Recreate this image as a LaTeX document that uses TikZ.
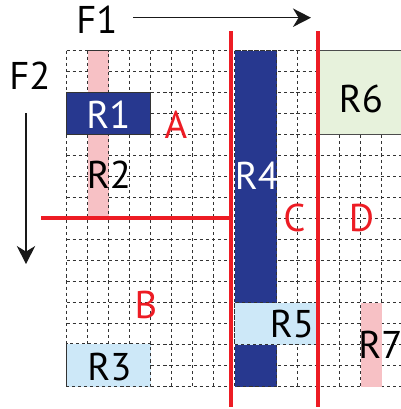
\documentclass[tikz,border=0pt]{standalone}
\usepackage{fontspec}
\setmainfont{PT Sans}
\usetikzlibrary{arrows.meta}
\definecolor{dblue}{HTML}{27388F}
\definecolor{rpink}{HTML}{F7C1C5}
\definecolor{lblue}{HTML}{CDE8F8}
\definecolor{lgreen}{HTML}{E7F2DC}
\definecolor{rred}{HTML}{ED1C24}
\begin{document}
\begin{tikzpicture}[x=0.025cm,y=-0.025cm,
  gridline/.style={draw=black!80,line width=0.55pt,dash pattern=on 2.2pt off 2.1pt},
  redline/.style={draw=rred,line width=2.9pt},
  lbl/.style={inner sep=0pt,font=\fontsize{27.5}{30}\selectfont},
  farrow/.style={draw=black!90,fill=black!90,line width=1.05pt,-{Stealth[length=0.45cm,width=0.46cm,inset=0.14cm]}},
  lightbox/.style={gridline},
  darkbox/.style={fill=dblue,draw=black!80,line width=0.6pt}]
\useasboundingbox (0,0) rectangle (401,409);
\begin{scope}
\clip (0,0) rectangle (401,409);
% grid
\foreach \i in {0,...,16}{
  \draw[gridline] (66.7+21*\i,50.7) -- (66.7+21*\i,386.7);
  \draw[gridline] (66.7,50.7+21*\i) -- (402.7,50.7+21*\i);
}
% R2 pink column
\filldraw[lightbox,fill=rpink] (87.7,50.7) rectangle (108.7,218.7);
% R1
\filldraw[darkbox] (66.7,92.7) rectangle (150.7,134.7);
% R4
\filldraw[lightbox,fill=dblue] (234.7,50.7) rectangle (276.7,386.7);
% R5
\filldraw[lightbox,fill=lblue] (234.7,302.7) rectangle (318.7,344.7);
% R3
\filldraw[lightbox,fill=lblue] (66.7,343.7) rectangle (150.7,386.7);
% R6
\filldraw[fill=lgreen,draw=black!70,line width=0.7pt] (318.7,50.7) rectangle (410,134.7);
% R7
\fill[rpink] (360.7,302.7) rectangle (381.7,386.7);
\end{scope}
% red separators
\coordinate (v1t) at (230.7,31);
\coordinate (v1b) at (230.7,407);
\coordinate (v2t) at (318.3,31);
\coordinate (v2b) at (318.3,407);
\coordinate (hl) at (41,218.3);
\coordinate (hr) at (230.7,218.3);
\draw[redline] (v1t) -- (v1b);
\draw[redline] (v2t) -- (v2b);
\draw[redline] (hl) -- (hr);
% F arrows
\node[lbl] (F1) at (97,20) {F1};
\node[lbl] (F2) at (30,76) {F2};
\coordinate (f1s) at (133,17.7);
\coordinate (f1e) at (311,17.7);
\coordinate (f2s) at (26,113);
\coordinate (f2e) at (26,264);
\draw[farrow] (f1s) -- (f1e);
\draw[farrow] (f2s) -- (f2e);
% labels
\node[lbl,white] (lR1) at (108.5,115) {R1};
\node[lbl,black] (lR2) at (109,175) {R2};
\node[lbl,white] (lR4) at (257,176) {R4};
\node[lbl,black] (lR6) at (361,99) {R6};
\node[lbl,black] (lR5) at (292,324) {R5};
\node[lbl,black] (lR3) at (109.5,367) {R3};
\node[lbl,black] (lR7) at (380.3,345) {R7};
\node[lbl,rred] (lA) at (176,125) {A};
\node[lbl,rred] (lB) at (146,305) {B};
\node[lbl,rred] (lC) at (294.5,218) {C};
\node[lbl,rred] (lD) at (361.5,218) {D};
\end{tikzpicture}
\end{document}
